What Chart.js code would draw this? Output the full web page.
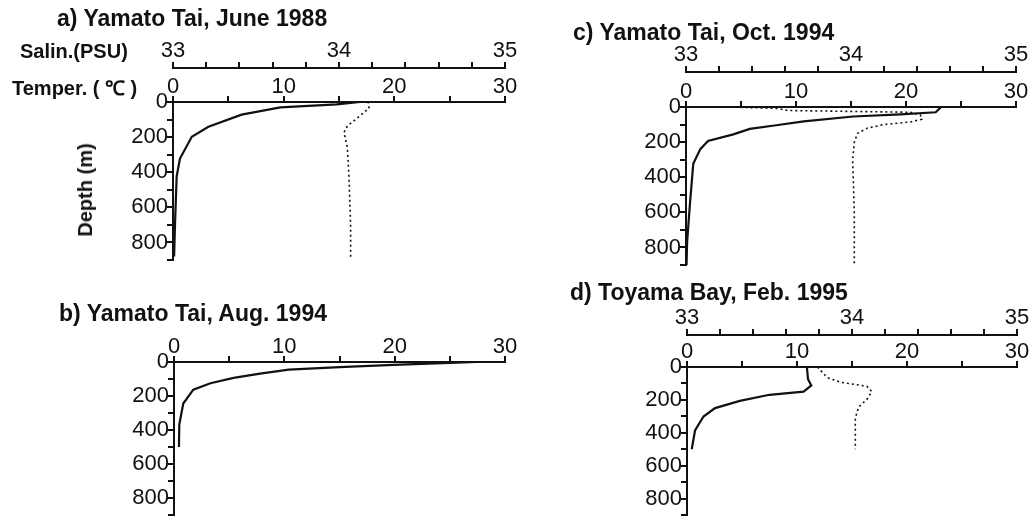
<!DOCTYPE html>
<html>
<head>
<meta charset="utf-8">
<script src="https://cdn.jsdelivr.net/npm/chart.js@4/dist/chart.umd.min.js"></script>
<style>
  body { margin: 0; background: #fff; }
  #page { position: relative; width: 1035px; height: 525px; overflow: hidden; background: #fff;
          font-family: 'Liberation Sans', Arial, sans-serif; color: #111; }
  canvas { position: absolute; }
  .lbl { position: absolute; font-weight: bold; white-space: nowrap; line-height: 1; }
  .title { font-size: 23px; }
  .side { font-size: 20px; }
</style>
</head>
<body>
<div id="page">
  <canvas id="chartA" width="520" height="270" style="left:0;top:0"></canvas>
  <canvas id="chartB" width="520" height="255" style="left:0;top:270px"></canvas>
  <canvas id="chartC" width="515" height="275" style="left:520px;top:0"></canvas>
  <canvas id="chartD" width="515" height="250" style="left:520px;top:275px"></canvas>

  <div class="lbl title" style="left:57px;top:7px">a) Yamato Tai, June 1988</div>
  <div class="lbl title" style="left:59px;top:302px">b) Yamato Tai, Aug. 1994</div>
  <div class="lbl title" style="left:573px;top:21px">c) Yamato Tai, Oct. 1994</div>
  <div class="lbl title" style="left:570px;top:281px">d) Toyama Bay, Feb. 1995</div>

  <div class="lbl side" style="left:20px;top:41px">Salin.(PSU)</div>
  <div class="lbl side" style="left:12px;top:78px">Temper. ( ℃ )</div>
  <div class="lbl side" style="left:85px;top:190px;transform:translate(-50%,-50%) rotate(-90deg)">Depth (m)</div>
</div>

<script>
// tick labels
const tempTicks = [0, 10, 20, 30];
const salTicks = [33, 34, 35];
const depthTicks = [0, 200, 400, 600, 800];

// a) Yamato Tai, June 1988
const depthA_T = [0, 13, 31, 72, 141, 198, 322, 424, 702, 880];
const tempA = [16.9, 14.8, 9.7, 6.2, 3.2, 1.7, 0.63, 0.33, 0.18, 0.1];
const depthA_S = [0, 7, 35, 76, 137, 174, 257, 424, 702, 887];
const salA = [34.17, 34.18, 34.18, 34.13, 34.05, 34.03, 34.05, 34.06, 34.07, 34.07];

// b) Yamato Tai, Aug. 1994 (temperature only)
const depthB = [0, 5, 17, 30, 45, 68, 93, 125, 163, 244, 368, 500];
const tempB = [27.4, 25.0, 19.9, 15.0, 10.4, 7.8, 5.4, 3.3, 1.75, 0.84, 0.48, 0.45];

// c) Yamato Tai, Oct. 1994
const depthC_T = [0, 30, 42, 54, 82, 104, 125, 156, 194, 240, 324, 550, 770, 900];
const tempC = [23.2, 22.7, 19.5, 15.2, 10.7, 8.2, 5.8, 4.3, 2.0, 1.3, 0.66, 0.36, 0.1, 0.05];
const depthC_S = [0, 8, 20, 30, 45, 70, 85, 100, 120, 150, 200, 300, 600, 900];
const salC = [33.27, 33.55, 33.62, 34.36, 34.42, 34.43, 34.36, 34.2, 34.1, 34.04, 34.02, 34.01, 34.02, 34.02];

// d) Toyama Bay, Feb. 1995
const depthD_T = [0, 74, 112, 150, 169, 206, 250, 301, 386, 500];
const tempD = [10.9, 11.0, 11.3, 10.6, 7.5, 4.8, 2.55, 1.5, 0.73, 0.43];
const depthD_S = [0, 64, 93, 117, 150, 197, 244, 311, 500];
const salD = [33.79, 33.85, 33.93, 34.09, 34.12, 34.09, 34.04, 34.02, 34.02];

const ink = '#111';
const tickFont = { family: "'Liberation Sans', Arial, sans-serif", size: 22, lineHeight: 1 };

function pts(depths, values) {
  return depths.map((d, i) => ({ x: values[i], y: d }));
}

function hasTick(list, v) {
  return list.some(t => Math.abs(t - v) < 1e-6);
}

function axisBits() {
  return {
    grid: { drawOnChartArea: false, drawTicks: true, tickLength: 6, color: ink, lineWidth: 2 },
    border: { display: true, color: ink, width: 2 },
  };
}

function panel(id, p) {
  const datasets = [{
    data: pts(p.tDepth, p.temp),
    xAxisID: 'x', yAxisID: 'y',
    showLine: true, pointRadius: 0, borderColor: ink, borderWidth: 2.2, tension: 0,
  }];
  const scales = {
    x: {
      type: 'linear', position: 'top', min: 0, max: 30, weight: 0,
      ticks: {
        stepSize: 5, autoSkip: false, maxRotation: 0, padding: -2, color: ink, font: tickFont,
        callback: v => (hasTick(tempTicks, v) ? String(v) : ''),
      },
      ...axisBits(),
      afterFit: s => { s.height = p.tempH; },
    },
    y: {
      type: 'linear', position: 'left', reverse: true, min: 0, max: 900,
      ticks: {
        stepSize: 100, autoSkip: false, padding: -1, color: ink, font: tickFont,
        callback: v => (hasTick(depthTicks, v) ? String(v) : ''),
      },
      ...axisBits(),
      afterFit: s => { s.width = p.left; },
    },
  };
  if (p.sal) {
    datasets.push({
      data: pts(p.sDepth, p.sal),
      xAxisID: 'sal', yAxisID: 'y',
      showLine: true, pointRadius: 0, borderColor: ink, borderWidth: 1.6, borderDash: [2, 3], tension: 0,
    });
    scales.sal = {
      type: 'linear', position: 'top', min: 33, max: 35, weight: 1,
      ticks: {
        stepSize: 0.2, autoSkip: false, maxRotation: 0, padding: 0, color: ink, font: tickFont,
        callback: v => (hasTick(salTicks, v) ? String(Math.round(v)) : ''),
      },
      ...axisBits(),
      afterFit: s => { s.height = p.salH; },
    };
  }
  new Chart(document.getElementById(id), {
    type: 'scatter',
    data: { datasets },
    options: {
      responsive: false,
      animation: false,
      layout: { padding: { left: 0, top: 0, right: p.right, bottom: p.bottom } },
      plugins: { legend: { display: false }, tooltip: { enabled: false } },
      scales,
    },
  });
}

panel('chartA', { left: 173, right: 15, bottom: 6, tempH: 34, salH: 68,
  tDepth: depthA_T, temp: tempA, sDepth: depthA_S, sal: salA });
panel('chartB', { left: 174, right: 15, bottom: 5, tempH: 92,
  tDepth: depthB, temp: tempB });
panel('chartC', { left: 166, right: 19, bottom: 7, tempH: 35, salH: 72,
  tDepth: depthC_T, temp: tempC, sDepth: depthC_S, sal: salC });
panel('chartD', { left: 167, right: 18, bottom: 0, tempH: 32, salH: 60,
  tDepth: depthD_T, temp: tempD, sDepth: depthD_S, sal: salD });
</script>
</body>
</html>
